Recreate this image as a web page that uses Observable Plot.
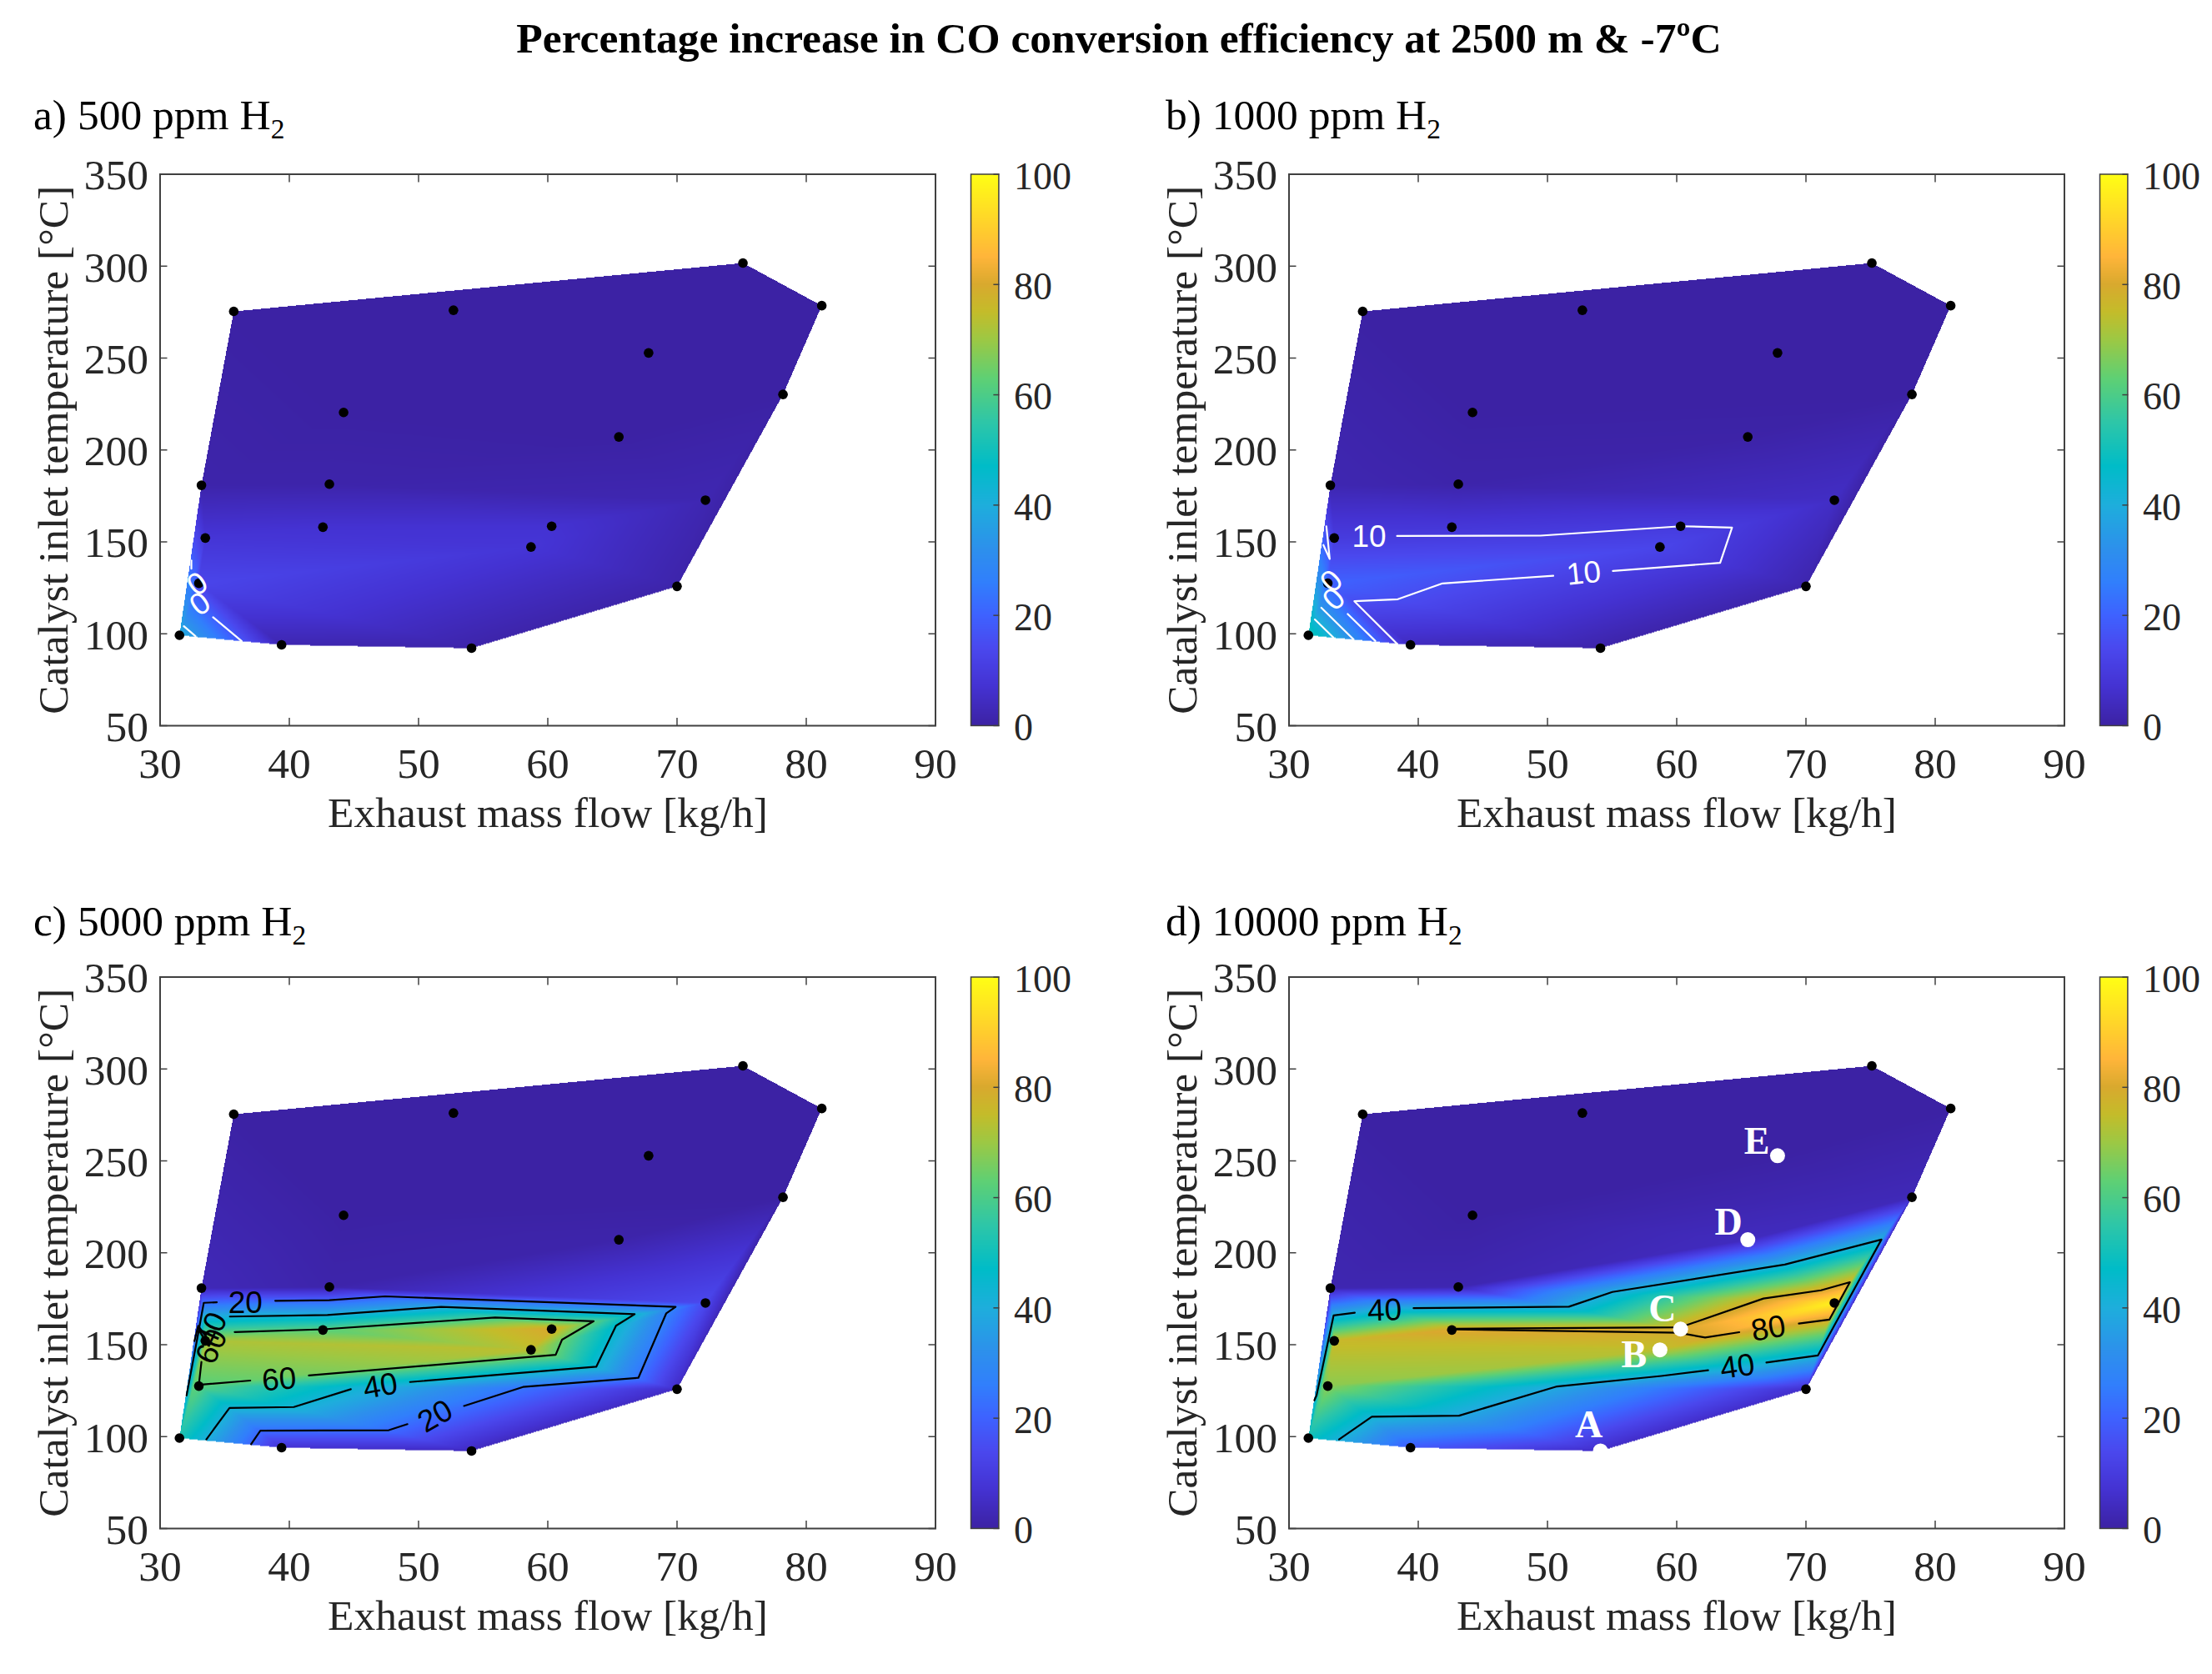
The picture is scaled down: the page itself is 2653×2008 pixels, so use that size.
<!DOCTYPE html>
<html><head><meta charset="utf-8">
<script src="https://cdn.jsdelivr.net/npm/d3@7"></script>
<script src="https://cdn.jsdelivr.net/npm/@observablehq/plot@0.6"></script>
<style>
html,body{margin:0;padding:0;background:#fff;}
#page{position:relative;width:2653px;height:2008px;overflow:hidden;font-family:"Liberation Serif",serif;color:#000;}
.t{position:absolute;white-space:nowrap;line-height:1;}
.t sub{font-size:65%;line-height:0;}
svg{overflow:visible;position:absolute;max-width:none;}
</style></head><body><div id="page"></div>
<script>
const flow = [31.5,33.0,33.5,33.2,35.7,39.4,42.6,43.1,44.2,52.7,54.1,58.7,60.3,65.5,67.8,70.0,72.2,75.1,78.2,81.2];
const temp = [99.2,127.5,152.1,180.8,275.4,94,158,181.4,220.4,276,92.2,147.2,158.5,207.1,252.8,125.8,172.7,301.7,230.2,278.5];
const incA = [40,13,8,1,0,2,7,1,0,0,1,8,7,0,0,1,2,0,0,0];
const incB = [52,20,10,2,0,4,8.5,1,0,0,1,13,10,0.5,0,1.5,5,0,0,0];
const incC = [52,62,72,3,0,7,62,1,0,0,4,74,80,1,0,5,14,0,0,0];
const incD = [50,68,76,2,0,18,81,2,0,0,5,74,80,4,0,6,97,0,3,0];

const colorStops = [0,7,14,20,26,32,40,47,55,63,70,75,80,85,100];
const colorValues = ["#3c22a4","#4432d2","#4a48ee","#3e62ff","#317ffc","#2d90ec","#1eaedc","#00bcc8","#2ec6a8","#5fd074","#9dc844","#c4bc2a","#d9a92e","#ffb53a","#ffff14"];

const contA = [
  [[34.1,109.0],[36.3,96.1]],
  [[31.84,104.1],[32.74,98.7]],
  [[32.42,139.9],[32.42,135.4]]
];
const contB = [
  [[38.36,153.2],[49.46,153.4],[60.33,158.5],[64.28,157.8],[63.36,138.6],[55.06,134.2]],
  [[50.45,131.6],[41.88,127.4],[38.42,118.8],[35.06,117.7],[38.36,94.6]],
  [[32.89,158.5],[33.15,140.7],[32.66,148.3]],
  [[34.54,110.8],[36.68,96.1]],
  [[32.5,114.2],[35.0,96.9]],
  [[32.0,107.8],[33.42,98.1]]
];
const contC = [
  [[34.39,173.1],[33.38,172.8],[32.86,152.7],[32.05,122.4]],
  [[38.91,173.9],[43.09,174.2],[47.41,176.3],[69.89,170.6],[69.17,167.1],[67.01,132.0],[58.08,127.0],[53.52,116.7]],
  [[49.14,106.8],[47.70,103.5],[37.76,103.2],[37.04,95.9]],
  [[35.40,165.3],[42.95,166.2],[51.74,170.6],[66.72,166.6],[65.28,160.3],[63.75,138.0],[49.34,129.7]],
  [[44.76,125.8],[40.35,116.1],[35.37,115.6],[33.58,98.5]],
  [[35.77,156.9],[42.66,158.4],[55.92,164.8],[63.55,162.8],[61.10,152.7],[60.61,144.5],[41.51,133.3]],
  [[36.98,130.5],[33.0,128.2],[33.2,140.6]],
  [[33.58,154.2],[32.95,160.3],[32.66,152.0]]
];
const contD = [
  [[35.09,167.4],[33.45,165.9],[32.13,122.4],[31.96,119.7]],
  [[39.64,169.9],[51.66,170.7],[55.02,178.7],[68.36,193.6],[75.84,207.2],[70.93,144.2],[66.94,140.3]],
  [[62.43,136.1],[58.81,133.0],[50.74,127.3],[43.16,111.4],[36.41,110.8],[33.87,98.5]],
  [[42.83,158.7],[60.29,159.5],[66.71,175.1],[71.16,179.6],[73.40,184.0],[71.82,163.7],[69.45,161.5]],
  [[64.84,156.8],[62.20,153.9],[60.13,156.5],[42.83,158.3]]
];
const labA = [{x:33.1,y:116.2,t:"0",r:-35},{x:32.9,y:127,t:"0",r:-35}];
const labB = [{x:36.2,y:152.8,t:"10",r:0},{x:52.8,y:132.8,t:"10",r:-6},{x:33.5,y:118.8,t:"0",r:-45},{x:33.3,y:128.5,t:"0",r:-45}];
const labC = [{x:36.6,y:172.8,t:"20",r:0},{x:39.2,y:131,t:"60",r:-5},{x:47.04,y:127.4,t:"40",r:-10},{x:51.3,y:111,t:"20",r:-30},{x:34.0,y:158,t:"40",r:-65},{x:34.0,y:149,t:"60",r:-65}];
const labD = [{x:37.4,y:168.6,t:"40",r:-2},{x:67.1,y:158.7,t:"80",r:-10},{x:64.7,y:138.0,t:"40",r:-8}];
const whitePts = [{x:54.1,y:92.2,t:"A",lx:53.2,ly:106.5},{x:58.7,y:147.2,t:"B",lx:56.7,ly:144.4},{x:60.3,y:158.5,t:"C",lx:58.9,ly:169.6},{x:65.5,y:207.1,t:"D",lx:64.0,ly:216.5},{x:67.8,y:252.8,t:"E",lx:66.2,ly:260.4}];
const xTicks = [30,40,50,60,70,80,90];
const yTicks = [50,100,150,200,250,300,350];
const barTicks = [0,20,40,60,80,100];
const titles = ["a) 500 ppm H","b) 1000 ppm H","c) 5000 ppm H","d) 10000 ppm H"];

const page = document.getElementById("page");
const axisColor = "#404040", textColor = "#262626";
const colorScale = {type:"linear", domain:colorStops, range:colorValues};
const panelW = 930, panelH = 661.5, mL = 191.5, mT = 48.5, mB = 140, mR = 30, canvasTop = 160;

// Linear interpolation over a triangulation made in data units (as griddata does), blank outside the hull.
function griddata(index, width, height, X, Y, V) {
  const kx = 60 / width, ky = 300 / height;
  const I = Array.from(index);
  const {triangles} = d3.Delaunay.from(I, i => X[i] * kx, i => Y[i] * ky);
  const W = new Float64Array(width * height).fill(NaN);
  for (let t = 0; t < triangles.length; t += 3) {
    const [a, b, c] = [I[triangles[t]], I[triangles[t + 1]], I[triangles[t + 2]]];
    const d = (Y[b] - Y[c]) * (X[a] - X[c]) + (X[c] - X[b]) * (Y[a] - Y[c]);
    const x0 = Math.max(0, Math.floor(Math.min(X[a], X[b], X[c]))), x1 = Math.min(width - 1, Math.ceil(Math.max(X[a], X[b], X[c])));
    const y0 = Math.max(0, Math.floor(Math.min(Y[a], Y[b], Y[c]))), y1 = Math.min(height - 1, Math.ceil(Math.max(Y[a], Y[b], Y[c])));
    for (let j = y0; j <= y1; ++j) for (let i = x0; i <= x1; ++i) {
      const px = i + 0.5, py = j + 0.5;
      const u = ((Y[b] - Y[c]) * (px - X[c]) + (X[c] - X[b]) * (py - Y[c])) / d;
      const v = ((Y[c] - Y[a]) * (px - X[c]) + (X[a] - X[c]) * (py - Y[c])) / d;
      const w = 1 - u - v;
      if (u >= -1e-9 && v >= -1e-9 && w >= -1e-9) W[i + j * width] = u * V[a] + v * V[b] + w * V[c];
    }
  }
  return W;
}
function rowsOf(segs){ return segs.flatMap((s,k)=>s.map(p=>({x:p[0],y:p[1],k}))); }

function panel(ox, oy, values, conts, labs, lineColor, whites) {
  const rows = flow.map((x,i)=>({x,y:temp[i],v:values[i]}));
  const blacks = whites ? rows.filter(r=>!whites.some(w=>w.x===r.x)) : rows;
  const p = Plot.plot({
    width: mL+panelW+mR, height: mT+panelH+mB,
    marginLeft: mL, marginRight: mR, marginTop: mT, marginBottom: mB,
    x:{domain:[30,90]}, y:{domain:[50,350]}, color:colorScale,
    style:{fontFamily:"Liberation Serif",fontSize:"51.5px",color:textColor,background:"transparent"},
    marks:[
      Plot.raster(rows,{x:"x",y:"y",fill:"v",interpolate:griddata}),
      Plot.line(rowsOf(conts),{x:"x",y:"y",z:"k",stroke:lineColor,strokeWidth:2.2}),
      Plot.dot(blacks,{x:"x",y:"y",r:5.8,fill:"black",stroke:null}),
      Plot.text(labs,{x:"x",y:"y",text:"t",rotate:"r",fill:lineColor,fontFamily:"Liberation Sans",fontSize:37}),
      whites ? Plot.dot(whites,{x:"x",y:"y",r:9,fill:"white",stroke:null}) : null,
      whites ? Plot.text(whites,{x:"lx",y:"ly",text:"t",fill:"white",fontWeight:"bold",fontSize:46}) : null,
      Plot.frame({stroke:axisColor,strokeWidth:2}),
      Plot.axisX(xTicks,{anchor:"bottom",tickSize:-9,tickPadding:35,stroke:axisColor,strokeWidth:1.5,fill:textColor,label:"Exhaust mass flow [kg/h]",labelAnchor:"center",labelArrow:"none",labelOffset:121}),
      Plot.axisX(xTicks,{anchor:"top",tickSize:-9,tickFormat:()=>"",stroke:axisColor,strokeWidth:1.5,label:null}),
      Plot.axisY(yTicks,{anchor:"left",tickSize:-9,tickFormat:()=>"",stroke:axisColor,strokeWidth:1.5,label:null}),
      Plot.axisY(yTicks,{anchor:"left",tickSize:0,tickPadding:14,dy:2,fill:textColor,label:"Catalyst inlet temperature [°C]",labelAnchor:"center",labelArrow:"none",labelOffset:148}),
      Plot.axisY(yTicks,{anchor:"right",tickSize:-9,tickFormat:()=>"",stroke:axisColor,strokeWidth:1.5,label:null})
    ]
  });
  p.style.left = ox+"px"; p.style.top = oy+"px";
  page.appendChild(p);
  const bar = Plot.plot({
    width: 33.4+100, height: mT+panelH+30,
    marginLeft:0, marginRight:100, marginTop:mT, marginBottom:30,
    x:{domain:[0,1],axis:null}, y:{domain:[0,100],axis:null}, color:colorScale,
    style:{fontFamily:"Liberation Serif",fontSize:"46px",color:textColor,background:"transparent"},
    marks:[
      Plot.raster({x1:0,x2:1,y1:0,y2:100,fill:(x,y)=>y}),
      Plot.frame({stroke:axisColor,strokeWidth:1.5}),
      Plot.axisY(barTicks,{anchor:"right",tickSize:-7,tickFormat:()=>"",stroke:axisColor,strokeWidth:1.5,label:null}),
      Plot.axisY(barTicks,{anchor:"right",tickSize:0,tickPadding:18,dy:3,fill:textColor,label:null})
    ]
  });
  bar.style.left = (ox+1164.3)+"px"; bar.style.top = oy+"px";
  page.appendChild(bar);
}

function addText(html,x,y,css){const d=document.createElement("div");d.className="t";d.innerHTML=html;d.style.left=x+"px";d.style.top=y+"px";if(css)d.style.cssText+=css;page.appendChild(d);}

addText("Percentage increase in CO conversion efficiency at 2500 m &amp; -7ºC",0,20,"width:2684px;text-align:center;font-weight:bold;font-size:51.5px;");
addText(titles[0]+"<sub>2</sub>",40,112,"font-size:51.5px;");
addText(titles[1]+"<sub>2</sub>",1398,112,"font-size:51.5px;");
addText(titles[2]+"<sub>2</sub>",40,1079,"font-size:51.5px;");
addText(titles[3]+"<sub>2</sub>",1398,1079,"font-size:51.5px;");

panel(0,canvasTop,incA,contA,labA,"white",null);
panel(1354,canvasTop,incB,contB,labB,"white",null);
panel(0,canvasTop+963,incC,contC,labC,"black",null);
panel(1354,canvasTop+963,incD,contD,labD,"black",whitePts);
</script></body></html>
